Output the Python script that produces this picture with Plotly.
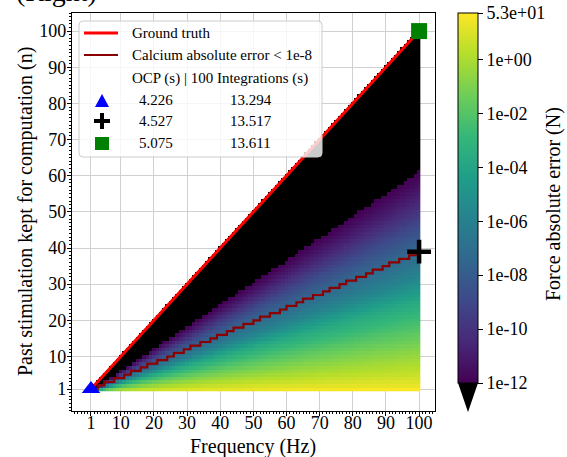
import numpy as np
import plotly.graph_objects as go

# ---------------- data ----------------
frequencies = list(range(1, 101))          # Hz
kept_stims = list(range(1, 101))           # n

# log10(force absolute error) profile read along the kept/frequency ratio
ratio_knots = [0.0, 0.01, 0.02, 0.05, 0.09, 0.18, 0.256, 0.32, 0.386, 0.458, 0.53, 0.588, 0.61, 0.615, 1.0]
log_err_knots = [1.7243, 1.7243, 1.3, 0.6, -0.2, -2.1, -3.8, -5.8, -7.3, -8.8, -10.6, -11.7, -12.0, -13.0, -13.0]

# smallest n with calcium absolute error < 1e-8, per frequency
calcium_n = [1, 1, 2, 2, 3, 3, 3, 4, 4, 4,
             5, 5, 6, 6, 6, 7, 7, 8, 8, 8,
             9, 9, 9, 10, 10, 11, 11, 11, 12, 12,
             13, 13, 13, 14, 14, 14, 15, 15, 16, 16,
             16, 17, 17, 18, 18, 18, 19, 19, 19, 20,
             20, 21, 21, 21, 22, 22, 22, 23, 23, 24,
             24, 24, 25, 25, 26, 26, 26, 27, 27, 27,
             28, 28, 29, 29, 29, 30, 30, 31, 31, 31,
             32, 32, 32, 33, 33, 34, 34, 34, 35, 35,
             36, 36, 36, 37, 37, 37, 38, 38, 39, 39]

ground_truth_f = [1, 100]
ground_truth_n = [1, 100]

ocp_f = [1, 100, 100]
ocp_n = [1, 39, 100]
ocp_symbols = ["triangle-up", "cross-thin", "square"]
ocp_colors = ["#0000ff", "#000000", "#008000"]
ocp_times = ["4.226", "4.527", "5.075"]
integration_times = ["13.294", "13.517", "13.611"]

cbar_tickvals = [np.log10(53.0), 0, -2, -4, -6, -8, -10, -12]
cbar_ticktext = ["5.3e+01", "1e+00", "1e-02", "1e-04", "1e-06", "1e-08", "1e-10", "1e-12"]
x_ticks = [1, 10, 20, 30, 40, 50, 60, 70, 80, 90, 100]
y_ticks = [1, 10, 20, 30, 40, 50, 60, 70, 80, 90, 100]

ZMIN, ZMAX = -12.0, float(np.log10(53.0))

# ---------------- grid ----------------
F = np.array(frequencies, dtype=float)
N = np.array(kept_stims, dtype=float)
FF, NN = np.meshgrid(F, N)
valid = NN <= FF
logerr = np.interp(NN / FF, ratio_knots, log_err_knots)
z_color = np.where(valid & (logerr >= ZMIN), logerr, np.nan)
z_black = np.where(valid & (logerr < ZMIN), 1.0, np.nan)

# ---------------- layout geometry ----------------
W, H = 567, 457
ML, MR, MT, MB = 72, 132, 13, 46
PW, PH = W - ML - MR, H - MT - MB


def px(x):
    return (x - ML) / PW


def py(y):
    return (H - MB - y) / PH


FONT = "Liberation Serif"

fig = go.Figure()

fig.add_trace(go.Heatmap(x=F, y=N, z=z_black, colorscale=[[0, "black"], [1, "black"]],
                         zmin=0, zmax=1, showscale=False, hoverinfo="skip"))
fig.add_trace(go.Heatmap(
    x=F, y=N, z=z_color, colorscale="Viridis", zmin=ZMIN, zmax=ZMAX,
    colorbar=dict(
        x=px(458), xanchor="left", xpad=0, y=1, yanchor="top", ypad=0,
        len=(383 - MT) / PH, lenmode="fraction", thickness=20, thicknessmode="pixels",
        outlinecolor="black", outlinewidth=1, ticks="outside", ticklen=5, tickcolor="black",
        tickvals=cbar_tickvals, ticktext=cbar_ticktext,
        tickfont=dict(family=FONT, size=18, color="black"),
    ),
    hoverinfo="skip"))

fig.add_trace(go.Scatter(x=ground_truth_f, y=ground_truth_n, mode="lines",
                         line=dict(color="#ff0000", width=3), showlegend=False))
fig.add_trace(go.Scatter(x=frequencies, y=calcium_n, mode="lines",
                         line=dict(color="#8b0000", width=2.2, shape="hv"), showlegend=False))

for f, n, s, c in zip(ocp_f, ocp_n, ocp_symbols, ocp_colors):
    if s == "cross-thin":
        mk = dict(symbol=s, color=c, size=17, line=dict(width=4.5, color=c))
    else:
        mk = dict(symbol=s, color=c, size=16, line=dict(width=0))
    fig.add_trace(go.Scatter(x=[f], y=[n], mode="markers", cliponaxis=False,
                             marker=mk, showlegend=False))

# ---------------- hand-built legend ----------------
shapes = []
annotations = []
bx0, bx1, by0, by1, r = 79, 322, 21, 157, 4
path = (f"M {px(bx0 + r)},{py(by0)} L {px(bx1 - r)},{py(by0)} Q {px(bx1)},{py(by0)} {px(bx1)},{py(by0 + r)} "
        f"L {px(bx1)},{py(by1 - r)} Q {px(bx1)},{py(by1)} {px(bx1 - r)},{py(by1)} "
        f"L {px(bx0 + r)},{py(by1)} Q {px(bx0)},{py(by1)} {px(bx0)},{py(by1 - r)} "
        f"L {px(bx0)},{py(by0 + r)} Q {px(bx0)},{py(by0)} {px(bx0 + r)},{py(by0)} Z")
shapes.append(dict(type="path", path=path, xref="paper", yref="paper", layer="above",
                   fillcolor="rgba(255,255,255,0.8)", line=dict(color="#cccccc", width=1)))
shapes.append(dict(type="line", xref="paper", yref="paper", x0=px(84), x1=px(118), y0=py(33), y1=py(33),
                   line=dict(color="#ff0000", width=3), layer="above"))
shapes.append(dict(type="line", xref="paper", yref="paper", x0=px(84), x1=px(118), y0=py(55), y1=py(55),
                   line=dict(color="#8b0000", width=2.2), layer="above"))
# triangle
shapes.append(dict(type="path", xref="paper", yref="paper", layer="above",
                   path=f"M {px(95)},{py(107)} L {px(109)},{py(107)} L {px(102)},{py(94)} Z",
                   fillcolor="#0000ff", line=dict(width=0)))
# plus
shapes.append(dict(type="rect", xref="paper", yref="paper", layer="above",
                   x0=px(94), x1=px(110), y0=py(119), y1=py(123), fillcolor="black", line=dict(width=0)))
shapes.append(dict(type="rect", xref="paper", yref="paper", layer="above",
                   x0=px(100), x1=px(104), y0=py(113), y1=py(129), fillcolor="black", line=dict(width=0)))
# square
shapes.append(dict(type="rect", xref="paper", yref="paper", layer="above",
                   x0=px(95), x1=px(109), y0=py(137), y1=py(150), fillcolor="#008000", line=dict(width=0)))
# colorbar extension triangle
shapes.append(dict(type="path", xref="paper", yref="paper", layer="above",
                   path=f"M {px(458)},{py(383)} L {px(478)},{py(383)} L {px(468)},{py(412)} Z",
                   fillcolor="black", line=dict(width=0)))

lfont = dict(family=FONT, size=15, color="black")
for txt, yy in [("Ground truth", 33), ("Calcium absolute error &lt; 1e-8", 55),
                ("OCP (s) | 100 Integrations (s)", 78)]:
    annotations.append(dict(text=txt, x=px(130), y=py(yy), xref="paper", yref="paper",
                            xanchor="left", yanchor="middle", showarrow=False, font=lfont))
for t1, t2, yy in zip(ocp_times, integration_times, [100, 121, 143]):
    annotations.append(dict(text=t1, x=px(137), y=py(yy), xref="paper", yref="paper",
                            xanchor="left", yanchor="middle", showarrow=False, font=lfont))
    annotations.append(dict(text=t2, x=px(228), y=py(yy), xref="paper", yref="paper",
                            xanchor="left", yanchor="middle", showarrow=False, font=lfont))

tfont = dict(family=FONT, size=20, color="black")
annotations.append(dict(text="Frequency (Hz)", x=px(253), y=py(446), xref="paper", yref="paper",
                        xanchor="center", yanchor="middle", showarrow=False, font=tfont))
annotations.append(dict(text="Past stimulation kept for computation (n)", x=px(25), y=py(212),
                        xref="paper", yref="paper", textangle=-90,
                        xanchor="center", yanchor="middle", showarrow=False, font=tfont))
annotations.append(dict(text="Force absolute error (N)", x=px(553), y=py(204),
                        xref="paper", yref="paper", textangle=-90,
                        xanchor="center", yanchor="middle", showarrow=False, font=tfont))
annotations.append(dict(text="(Right)", x=px(14), y=py(-9), xref="paper", yref="paper",
                        xanchor="left", yanchor="middle", showarrow=False,
                        font=dict(family=FONT, size=28, color="black")))

axis_common = dict(
    showline=True, linecolor="black", linewidth=1.2, mirror=True,
    ticks="outside", ticklen=4, tickcolor="black", tickwidth=1,
    showgrid=True, gridcolor="#d0d0d0", gridwidth=1, zeroline=False, automargin=False,
    tickfont=dict(family=FONT, size=18, color="black"),
    minor=dict(ticks="outside", ticklen=2, dtick=1, tick0=0, tickcolor="black", showgrid=False),
)

fig.update_layout(
    width=W, height=H, margin=dict(l=ML, r=MR, t=MT, b=MB, pad=0, autoexpand=False),
    paper_bgcolor="white", plot_bgcolor="white", showlegend=False,
    font=dict(family=FONT, color="black"),
    xaxis=dict(range=[-4.73, 104.8], tickmode="array", tickvals=x_ticks, ticklabelstandoff=-9,
               **axis_common),
    yaxis=dict(range=[-5.08, 105.0], tickmode="array", tickvals=y_ticks, ticklabelstandoff=-3,
               **axis_common),
    shapes=shapes, annotations=annotations,
)

fig.write_html("out.html", config={"displayModeBar": False},
               post_script="document.body.style.margin='0px';")
